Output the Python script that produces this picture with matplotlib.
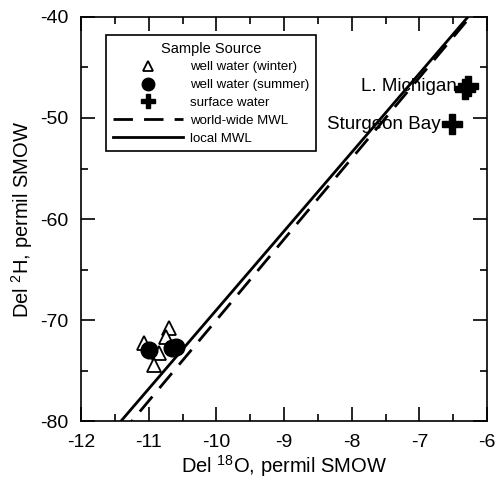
import numpy as np
import matplotlib
matplotlib.use("Agg")
import matplotlib.pyplot as plt
from matplotlib.ticker import MultipleLocator

plt.rcParams['font.family'] = ['Liberation Sans', 'DejaVu Sans']
plt.rcParams['mathtext.fontset'] = 'custom'
plt.rcParams['mathtext.rm'] = 'Liberation Sans'
plt.rcParams['axes.unicode_minus'] = False

# well water, winter (open triangles)
winter_o18 = [-11.07, -10.70, -10.74, -10.85, -10.92]
winter_h2 = [-72.3, -70.8, -71.7, -73.3, -74.4]

# well water, summer (filled circles)
summer_o18 = [-11.00, -10.66, -10.59]
summer_h2 = [-73.0, -72.8, -72.7]

# surface water (plus signs)
surface_names = ['L. Michigan', 'L. Michigan', 'Sturgeon Bay']
surface_o18 = [-6.28, -6.32, -6.52]
surface_h2 = [-46.8, -47.1, -50.6]

# meteoric water lines: d2H = slope * d18O + intercept
gmwl_slope, gmwl_icpt = 8.0, 10.0
lmwl_slope, lmwl_icpt = 7.8, 9.0

fig = plt.figure(figsize=(4.97, 4.83), dpi=100)
ax = fig.add_axes([0.163, 0.128, 0.817, 0.837])

xx = np.array([-12, -6])
ax.plot(xx, gmwl_slope * xx + gmwl_icpt, color='black', lw=2,
        dashes=(7, 4), label='world-wide MWL', zorder=2)
ax.plot(xx, lmwl_slope * xx + lmwl_icpt, color='black', lw=2,
        label='local MWL', zorder=2)

ax.plot(winter_o18, winter_h2, ls='none', marker='^', ms=10, mfc='white',
        mec='black', mew=1.3, label='well water (winter)', zorder=3)
ax.plot(summer_o18, summer_h2, ls='none', marker='o', ms=12, color='black',
        label='well water (summer)', zorder=4)
ax.plot(surface_o18, surface_h2, ls='none', marker='P', ms=14, color='black',
        label='surface water', zorder=4)

# labels for the surface water points
ax.text(-6.45, -46.9, 'L. Michigan', ha='right', va='center', fontsize=13.5)
ax.text(-6.68, -50.6, 'Sturgeon Bay', ha='right', va='center', fontsize=13.5)

ax.set_xlim(-12, -6)
ax.set_ylim(-80, -40)
ax.xaxis.set_major_locator(MultipleLocator(1))
ax.xaxis.set_minor_locator(MultipleLocator(0.5))
ax.yaxis.set_major_locator(MultipleLocator(10))
ax.yaxis.set_minor_locator(MultipleLocator(5))
ax.tick_params(which='both', direction='in', top=True, right=True,
               labelsize=14, width=1.2)
ax.tick_params(which='major', length=10, pad=9)
ax.tick_params(which='minor', length=5)
for s in ax.spines.values():
    s.set_linewidth(1.2)

ax.set_xlabel(r'Del $\mathregular{^{18}}$O, permil SMOW', fontsize=14.5, labelpad=2)
ax.set_ylabel(r'Del $\mathregular{^{2}}$H, permil SMOW', fontsize=14.5, labelpad=4)

h, l = ax.get_legend_handles_labels()
order = [2, 3, 4, 0, 1]
leg = ax.legend([h[i] for i in order], [l[i] for i in order],
                title='Sample Source', loc='upper left',
                bbox_to_anchor=(0.062, 0.955), borderaxespad=0,
                fontsize=9.5, title_fontsize=10.5, fancybox=False,
                edgecolor='black', framealpha=1, handlelength=5.3,
                handletextpad=0.55, labelspacing=0.42, borderpad=0.5,
                markerscale=0.75)
leg.get_frame().set_linewidth(1.2)

fig.savefig('out.png', dpi=100)
